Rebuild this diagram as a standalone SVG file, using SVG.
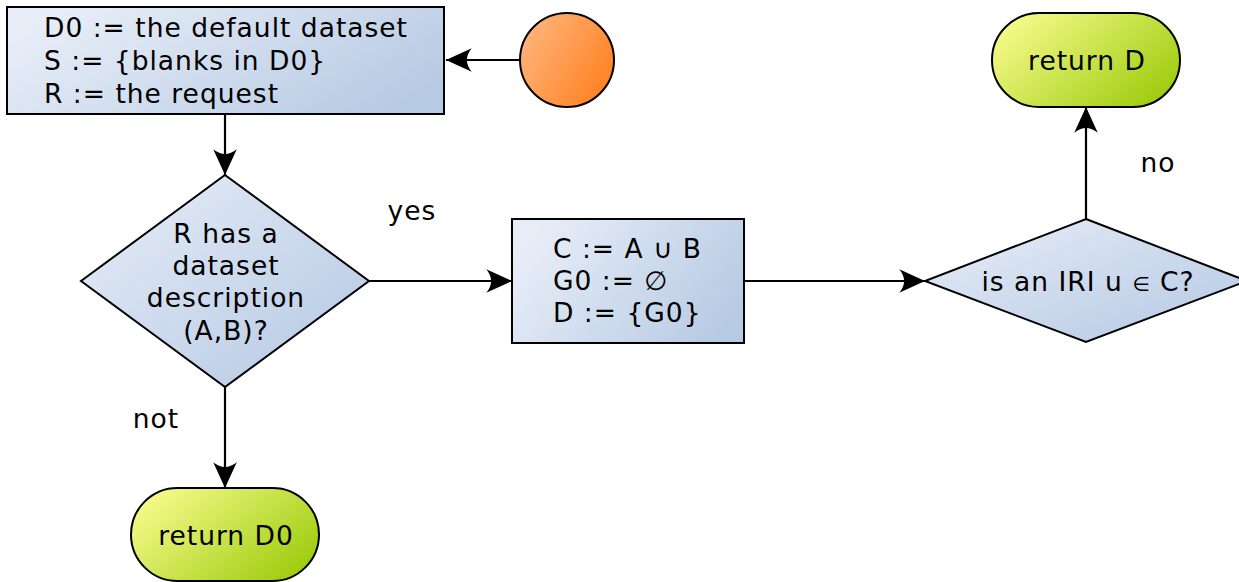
<svg xmlns="http://www.w3.org/2000/svg" width="1239" height="582" viewBox="0 0 1239 582">
<defs>
<linearGradient id="gBlue" x1="0" y1="0" x2="1" y2="1" gradientUnits="objectBoundingBox">
<stop offset="0" stop-color="#e8eef8"/>
<stop offset="1" stop-color="#b3c7e2"/>
</linearGradient>
<linearGradient id="gBlueH" x1="0" y1="0.3" x2="1" y2="0.7">
<stop offset="0" stop-color="#e8eef8"/>
<stop offset="1" stop-color="#b7cae3"/>
</linearGradient>
<linearGradient id="gGreen" x1="0" y1="0.2" x2="1" y2="0.8">
<stop offset="0" stop-color="#f7fb8c"/>
<stop offset="1" stop-color="#9ccb0c"/>
</linearGradient>
<linearGradient id="gOrange" x1="0" y1="0.2" x2="1" y2="0.8">
<stop offset="0" stop-color="#ffb57d"/>
<stop offset="1" stop-color="#ff7f1e"/>
</linearGradient>
<marker id="arr" markerUnits="userSpaceOnUse" markerWidth="30" markerHeight="30" viewBox="-26 -13 28 26" refX="0" refY="0" orient="auto">
<path d="M0,0 L-24,-11 Q-15,0 -24,11 Z" fill="#000"/>
</marker>
</defs>
<style>
.shape{stroke:#000;stroke-width:2}
.t{font-family:"DejaVu Sans","Verdana",sans-serif;font-size:26.5px;letter-spacing:1px;fill:#000}
.c{text-anchor:middle}
.sm{font-size:20px}
.conn{stroke:#000;stroke-width:2.2;fill:none;marker-end:url(#arr)}
</style>
<g id="connectors">
<path class="conn" d="M520,60 L446,60"/>
<path class="conn" d="M225,114 L225,175"/>
<path class="conn" d="M369,281 L512,281"/>
<path class="conn" d="M744,281 L925,281"/>
<path class="conn" d="M1086,219 L1086,107"/>
<path class="conn" d="M225,387 L225,488"/>
</g>
<g id="init">
<rect class="shape" x="7" y="7" width="437" height="107" fill="url(#gBlueH)"/>
<text class="t" x="44" y="36.7">D0 := the default dataset</text>
<text class="t" x="44" y="70">S := {blanks in D0}</text>
<text class="t" x="44" y="103.3">R := the request</text>
</g>
<g id="start">
<circle class="shape" cx="567" cy="60" r="47" fill="url(#gOrange)"/>
</g>
<g id="decision1">
<polygon class="shape" points="225,175 369,281 225,387 81,281" fill="url(#gBlue)"/>
<text class="t c" x="226" y="242.5">R has a</text>
<text class="t c" x="226" y="275">dataset</text>
<text class="t c" x="226" y="307">description</text>
<text class="t c" x="226" y="339.5">(A,B)?</text>
</g>
<g id="compute">
<rect class="shape" x="512" y="219" width="232" height="124" fill="url(#gBlueH)"/>
<text class="t" x="553" y="257.5">C := A ∪ B</text>
<text class="t" x="553" y="289.5">G0 := ∅</text>
<text class="t" x="553" y="321.5">D := {G0}</text>
</g>
<g id="decision2">
<polygon class="shape" points="1086,219 1247,281 1086,342 925,281" fill="url(#gBlue)"/>
<text class="t c" x="1088" y="290.5">is an IRI u <tspan class="sm">∈</tspan> C?</text>
</g>
<g id="returnD">
<rect class="shape" x="992" y="13" width="188" height="94" rx="47" ry="47" fill="url(#gGreen)"/>
<text class="t c" x="1087" y="70">return D</text>
</g>
<g id="returnD0">
<rect class="shape" x="131" y="488" width="188" height="93" rx="46.5" ry="46.5" fill="url(#gGreen)"/>
<text class="t c" x="226" y="544.5">return D0</text>
</g>
<g id="labels">
<text class="t c" x="412" y="220">yes</text>
<text class="t c" x="1158" y="172">no</text>
<text class="t c" x="156" y="428">not</text>
</g>
</svg>
